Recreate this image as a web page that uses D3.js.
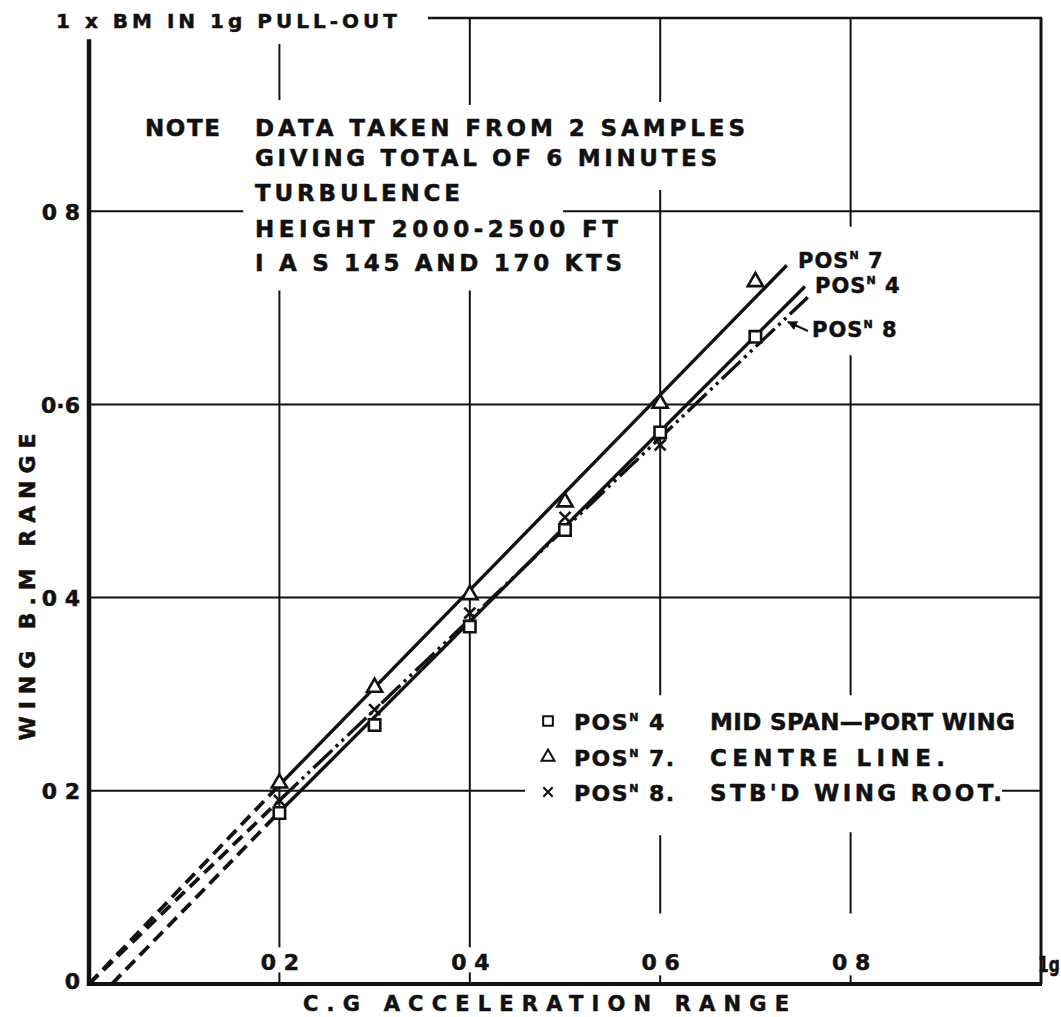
<!DOCTYPE html>
<html>
<head>
<meta charset="utf-8">
<script src="https://cdn.jsdelivr.net/npm/d3@7"></script>
<style>
body { margin: 0; background: #fff; }
text { font-family: "DejaVu Sans", sans-serif; font-weight: bold; fill: #111; stroke: #111; stroke-width: 0.5; }
</style>
</head>
<body>
<div id="chart-area"></div>
<script>
// values
var cgAccel = [0.2, 0.3, 0.4, 0.5, 0.6, 0.7];
var pos4BM = [0.177, 0.268, 0.370, 0.470, 0.571, 0.670];
var pos7BM = [0.208, 0.307, 0.403, 0.499, 0.601, 0.727];
var pos8Accel = [0.2, 0.3, 0.4, 0.5, 0.6];
var pos8BM = [0.19, 0.284, 0.384, 0.483, 0.558];

// faired lines as drawn (end points), and the dashed run back to zero
var pos4Fit = [[0.2, 0.178], [0.752, 0.722]];
var pos7Fit = [[0.2, 0.206], [0.733, 0.744]];
var pos8Fit = [[0.2, 0.19], [0.755, 0.711]];
var pos4Extrap = [[0.024, 0], [0.2, 0.178]];
var pos7Extrap = [[0, 0], [0.2, 0.206]];
var pos8Extrap = [[0, 0], [0.2, 0.19]];

var xTickValues = [0.2, 0.4, 0.6, 0.8, 1];
var xTickLabels = ["0 2", "0 4", "0 6", "0 8", "1g"];
var yTickValues = [0, 0.2, 0.4, 0.6, 0.8];
var yTickLabels = ["0", "0 2", "0 4", "0·6", "0 8"];

var noteLines = ["DATA TAKEN FROM 2 SAMPLES", "GIVING TOTAL OF 6 MINUTES", "TURBULENCE",
	"HEIGHT 2000-2500 FT", "I A S  145 AND 170 KTS"];
var legendNums = ["4", "7.", "8."];
var legendNames = ["MID SPAN—PORT WING", "CENTRE LINE.", "STB'D WING ROOT."];

var margin = { left: 89, right: 20, top: 18, bottom: 33 };
var width = 1061 - margin.left - margin.right;
var height = 1017 - margin.top - margin.bottom;

var svg = d3.select("#chart-area").append("svg")
	.attr("width", 1061)
	.attr("height", 1017);
var g = svg.append("g")
	.attr("transform", "translate(" + margin.left + "," + margin.top + ")");

var x = d3.scaleLinear().domain([0, 1]).range([0, width]);
var y = d3.scaleLinear().domain([0, 1]).range([height, 0]);

// grid lines are broken where lettering sits
var vGrid = [
	{ v: 0.2, segs: [[0.915, 0.973], [0.038, 0.718], [0, 0.012]] },
	{ v: 0.4, segs: [[0.91, 1], [0.038, 0.718], [0, 0.012]] },
	{ v: 0.6, segs: [[0.913, 1], [0.299, 0.822], [0.073, 0.154], [0, 0.009]] },
	{ v: 0.8, segs: [[0.784, 1], [0.299, 0.651], [0.073, 0.157], [0, 0.009]] }
];
var hGrid = [
	{ v: 0.2, segs: [[0, 0.458], [0.959, 1]] },
	{ v: 0.4, segs: [[0, 1]] },
	{ v: 0.6, segs: [[0, 1]] },
	{ v: 0.8, segs: [[0, 0.162], [0.498, 1]] }
];

var grid = g.append("g").attr("stroke", "#111").attr("stroke-width", 2);
vGrid.forEach(function (gl) {
	gl.segs.forEach(function (s) {
		grid.append("line")
			.attr("x1", x(gl.v)).attr("x2", x(gl.v))
			.attr("y1", y(s[0])).attr("y2", y(s[1]));
	});
});
hGrid.forEach(function (gl) {
	gl.segs.forEach(function (s) {
		grid.append("line")
			.attr("y1", y(gl.v)).attr("y2", y(gl.v))
			.attr("x1", x(s[0])).attr("x2", x(s[1]));
	});
});

// frame
var frame = g.append("g").attr("stroke", "#111").attr("fill", "none");
frame.append("line").attr("x1", x(0)).attr("x2", x(0)).attr("y1", y(0.978)).attr("y2", y(0) + 2).attr("stroke-width", 4.5);
frame.append("line").attr("x1", x(0) - 2).attr("x2", x(1) + 1).attr("y1", y(0)).attr("y2", y(0)).attr("stroke-width", 4);
frame.append("line").attr("x1", x(1)).attr("x2", x(1)).attr("y1", y(1)).attr("y2", y(0)).attr("stroke-width", 3);
frame.append("line").attr("x1", x(0.356)).attr("x2", x(1) + 1).attr("y1", y(1)).attr("y2", y(1)).attr("stroke-width", 2.5);

// axes (labels only); the last x label sits past the frame, drawn on its own
var xAxisCall = d3.axisTop(x).tickValues(xTickValues.slice(0, 4))
	.tickFormat(function (d, i) { return xTickLabels[i]; })
	.tickSize(0).tickPadding(14);
var xAxisGroup = g.append("g").attr("transform", "translate(0," + height + ")").call(xAxisCall);
xAxisGroup.select(".domain").remove();
xAxisGroup.selectAll("text")
	.attr("font-size", 22)
	.attr("fill", "#111")
	.attr("font-family", "DejaVu Sans");
g.append("text")
	.attr("transform", "translate(" + (x(xTickValues[4]) - 3) + "," + (height - 12) + ") scale(0.74,1)")
	.attr("font-size", 21)
	.text(xTickLabels[4]);

var yAxisCall = d3.axisLeft(y).tickValues(yTickValues)
	.tickFormat(function (d, i) { return yTickLabels[i]; })
	.tickSize(0).tickPadding(9);
var yAxisGroup = g.append("g").call(yAxisCall);
yAxisGroup.select(".domain").remove();
yAxisGroup.selectAll("text")
	.attr("font-size", 22)
	.attr("fill", "#111")
	.attr("font-family", "DejaVu Sans")
	.attr("dy", function (d) { return d === 0 ? "0.2em" : "0.36em"; });

// axis titles
g.append("text")
	.attr("x", x(0.5) - 19).attr("y", height + 27)
	.attr("font-size", 21).attr("text-anchor", "middle")
	.attr("textLength", 486).attr("lengthAdjust", "spacing")
	.text("C.G  ACCELERATION  RANGE");
g.append("text")
	.attr("transform", "translate(" + (-54) + "," + (587 - margin.top) + ") rotate(-90)")
	.attr("font-size", 22).attr("text-anchor", "middle")
	.attr("textLength", 307).attr("lengthAdjust", "spacing")
	.text("WING  B.M  RANGE");

// top label
svg.append("text")
	.attr("x", 56).attr("y", 28)
	.attr("font-size", 20)
	.attr("textLength", 341).attr("lengthAdjust", "spacing")
	.text("1 x BM IN 1g PULL-OUT");

// note block
var noteBase = [136, 166, 201, 237, 271];
var noteLen = [490, 462, 205, 363, 367];
svg.append("text").attr("x", 145).attr("y", noteBase[0]).attr("font-size", 23)
	.attr("textLength", 75).attr("lengthAdjust", "spacing").text("NOTE");
svg.selectAll(".note").data(noteLines).enter().append("text")
	.attr("class", "note")
	.attr("x", 255)
	.attr("y", function (d, i) { return noteBase[i]; })
	.attr("font-size", 23)
	.attr("textLength", function (d, i) { return noteLen[i]; })
	.attr("lengthAdjust", "spacing")
	.text(function (d) { return d; });

// faired lines
var line = d3.line().x(function (d) { return x(d[0]); }).y(function (d) { return y(d[1]); });
var lines = g.append("g").attr("fill", "none").attr("stroke", "#111").attr("stroke-width", 3.4);
[pos4Extrap, pos7Extrap, pos8Extrap].forEach(function (p) {
	lines.append("path").attr("d", line(p)).attr("stroke-dasharray", "13,7").attr("stroke-width", 3.8);
});
lines.append("path").attr("d", line(pos7Fit));
lines.append("path").attr("d", line(pos4Fit));
lines.append("path").attr("d", line(pos8Fit)).attr("stroke-dasharray", "26,5,3,5,3,5");

// points
var sq = d3.symbol().type(d3.symbolSquare).size(130);
var tri = d3.symbol().type(d3.symbolTriangle).size(100);
var cross = d3.symbol().type(d3.symbolX).size(80);
var pts = g.append("g").attr("stroke", "#111").attr("stroke-width", 2.6).attr("fill", "#fff");
pts.selectAll(".p4").data(cgAccel).enter().append("path")
	.attr("d", sq)
	.attr("transform", function (d, i) { return "translate(" + x(d) + "," + y(pos4BM[i]) + ")"; });
pts.selectAll(".p7").data(cgAccel).enter().append("path")
	.attr("d", tri)
	.attr("transform", function (d, i) { return "translate(" + x(d) + "," + y(pos7BM[i]) + ")"; });
pts.selectAll(".p8").data(pos8Accel).enter().append("path")
	.attr("d", cross)
	.attr("transform", function (d, i) { return "translate(" + x(d) + "," + y(pos8BM[i]) + ")"; });

// line labels
function posLabel(px, py, num) {
	var t = svg.append("text").attr("x", px).attr("y", py).attr("font-size", 21).attr("letter-spacing", 1);
	t.append("tspan").text("POS");
	t.append("tspan").attr("font-size", 11).attr("dy", -9).text("N");
	t.append("tspan").attr("dy", 9).text(" " + num);
}
posLabel(798, 268, "7");
posLabel(815, 293, "4");
posLabel(812, 337, "8");

svg.append("defs").append("marker")
	.attr("id", "arr").attr("viewBox", "0 0 10 10").attr("refX", 9).attr("refY", 5)
	.attr("markerWidth", 5).attr("markerHeight", 5).attr("orient", "auto")
	.append("path").attr("d", "M0,0L10,5L0,10z").attr("fill", "#111");
svg.append("line")
	.attr("x1", 808).attr("y1", 331).attr("x2", 788).attr("y2", 322)
	.attr("stroke", "#111").attr("stroke-width", 2).attr("marker-end", "url(#arr)");

// legend
var legendY = [730, 766, 801];
var legendSym = [sq, tri, cross];
var lg = svg.append("g");
legendNames.forEach(function (name, i) {
	lg.append("path").attr("d", legendSym[i])
		.attr("transform", "translate(548," + (legendY[i] - 9) + ") scale(0.85)")
		.attr("fill", "#fff").attr("stroke", "#111").attr("stroke-width", 2.4);
	var t = lg.append("text").attr("x", 574).attr("y", legendY[i]).attr("font-size", 22).attr("letter-spacing", 1.5);
	t.append("tspan").text("POS");
	t.append("tspan").attr("font-size", 11).attr("dy", -9).text("N");
	t.append("tspan").attr("dy", 9).text(" " + legendNums[i]);
	lg.append("text").attr("x", 710).attr("y", legendY[i]).attr("font-size", 23)
		.attr("textLength", [305, 235, 292][i]).attr("lengthAdjust", "spacing")
		.text(name);
});
</script>
</body>
</html>
